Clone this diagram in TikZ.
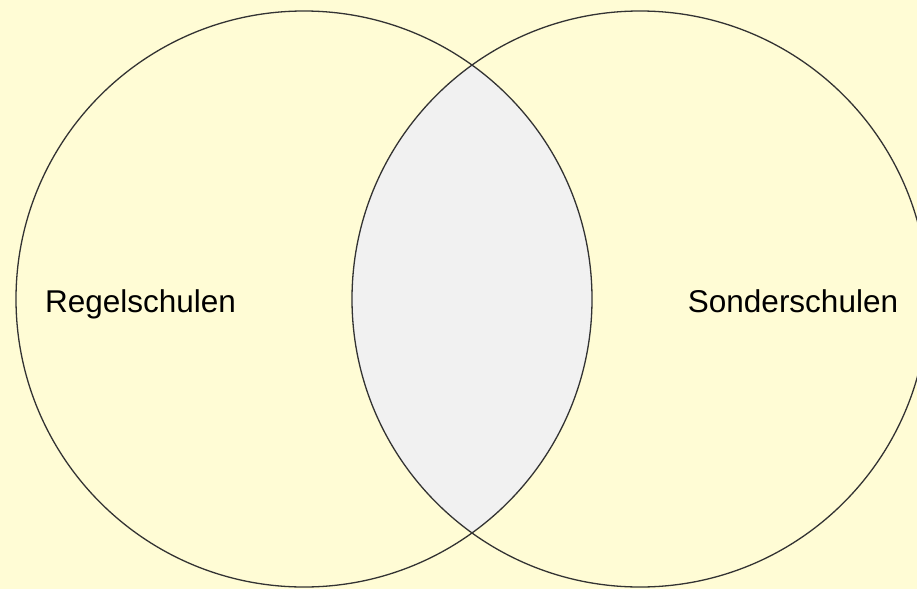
\documentclass[tikz,border=0pt]{standalone}
\usepackage{fontspec}
\setmainfont{Liberation Sans}
\definecolor{bgyellow}{HTML}{FFFCD5}
\definecolor{lensgray}{HTML}{F1F1F1}
\definecolor{edge}{HTML}{333333}
\begin{document}
\begin{tikzpicture}[x=1pt,y=-1pt,
  setcircle/.style={draw=edge,line width=1.3pt},
  setlabel/.style={font=\fontsize{31.5}{36}\selectfont,anchor=base,inner sep=0pt}]
\fill[bgyellow] (0,0) rectangle (917,589);
\useasboundingbox (0,0) rectangle (917,589);
\coordinate (cl) at (304,299);
\coordinate (cr) at (640,299);
\begin{scope}
  \clip (cl) circle[radius=288];
  \fill[lensgray] (cr) circle[radius=288];
\end{scope}
\begin{scope}
  \clip (0,0) rectangle (917,589);
  \draw[setcircle] (cl) circle[radius=288];
  \draw[setcircle] (cr) circle[radius=288];
\end{scope}
\node[setlabel] (regel) at (140.5,312) {Regelschulen};
\node[setlabel] (sonder) at (793,312) {Sonderschulen};
\end{tikzpicture}
\end{document}
